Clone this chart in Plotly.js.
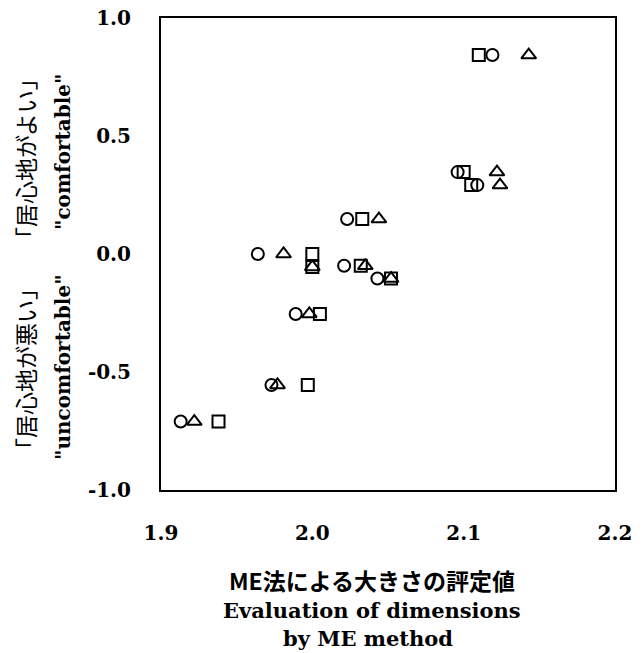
<!DOCTYPE html>
<html>
<head>
<meta charset="utf-8">
<script src="https://cdn.plot.ly/plotly-3.0.1.min.js"></script>
<style>html,body{margin:0;padding:0;background:#fff;}#chart{width:644px;height:653px;}</style>
</head>
<body>
<div id="chart"></div>
<script>
// Circle series
const circleX = [2.119, 2.096, 2.109, 2.023, 1.964, 2.021, 2.043, 1.989, 1.973, 1.913];
const circleY = [0.843, 0.347, 0.292, 0.148, 0.000, -0.050, -0.104, -0.254, -0.555, -0.710];
// Square series
const squareX = [2.110, 2.100, 2.105, 2.033, 2.000, 2.000, 2.032, 2.052, 2.005, 1.997, 1.938];
const squareY = [0.843, 0.347, 0.292, 0.148, 0.000, -0.055, -0.050, -0.104, -0.254, -0.555, -0.710];
// Triangle series
const triX = [2.143, 2.122, 2.124, 2.044, 1.981, 2.000, 2.035, 2.052, 1.998, 1.977, 1.922];
const triY = [0.843, 0.347, 0.292, 0.148, 0.000, -0.055, -0.050, -0.104, -0.254, -0.555, -0.710];

const xTicks = [1.9, 2.0, 2.1, 2.2];
const xTickText = ["1.9", "2.0", "2.1", "2.2"];
const yTicks = [-1.0, -0.5, 0.0, 0.5, 1.0];
const yTickText = ["-1.0", "-0.5", "0.0", "0.5", "1.0"];

const xTitleLines = ["ME法による大きさの評定値", "Evaluation of dimensions", "by ME method"];
const yTitleJa = ["「居心地が悪い」", "「居心地がよい」"];
const yTitleEn = ['"uncomfortable"', '"comfortable"'];

const serif = "DejaVu Serif";
const cjk = "Noto Sans CJK JP";

function mk(x, y, sym, size) {
  return {
    x: x, y: y, type: "scatter", mode: "markers", showlegend: false, hoverinfo: "skip",
    marker: {symbol: sym, size: size, color: "#000", line: {color: "#000", width: 2}}
  };
}

const data = [
  mk(circleX, circleY, "circle-open", 12),
  mk(squareX, squareY, "square-open", 12),
  mk(triX, triY, "triangle-up-open", 13)
];

const W = 644, H = 653, L = 161, R = 29, T = 18, B = 163;
const pw = W - L - R, ph = H - T - B;
function px(xp) { return (xp - L) / pw; }
function py(yp) { return (H - B - yp) / ph; }

const annotations = [
  {text: xTitleLines[0], x: px(372), y: py(580), font: {family: cjk, size: 23, color: "#000", weight: "bold"}},
  {text: xTitleLines[1], x: px(372), y: py(610), font: {family: serif, size: 21, color: "#000", weight: "bold"}},
  {text: xTitleLines[2], x: px(368), y: py(638), font: {family: serif, size: 21, color: "#000", weight: "bold"}},
  {text: yTitleJa[0], x: px(25), y: py(369), textangle: -90, font: {family: cjk, size: 23, color: "#000"}},
  {text: yTitleJa[1], x: px(25), y: py(159), textangle: -90, font: {family: cjk, size: 23, color: "#000"}},
  {text: yTitleEn[0], x: px(63), y: py(367), textangle: -90, font: {family: serif, size: 20, color: "#000", weight: "bold"}},
  {text: yTitleEn[1], x: px(63), y: py(152), textangle: -90, font: {family: serif, size: 20, color: "#000", weight: "bold"}}
].map(a => Object.assign({xref: "paper", yref: "paper", showarrow: false, xanchor: "center", yanchor: "middle"}, a));

const layout = {
  width: W, height: H,
  margin: {l: L, r: R, t: T, b: B, pad: 0},
  paper_bgcolor: "#fff", plot_bgcolor: "#fff",
  showlegend: false,
  xaxis: {
    range: [1.9, 2.2], tickvals: xTicks, ticktext: xTickText,
    showgrid: false, zeroline: false, showline: true, mirror: true,
    linecolor: "#000", linewidth: 2, ticks: "", ticklabelstandoff: 24,
    tickfont: {family: serif, size: 20, color: "#000", weight: "bold"}
  },
  yaxis: {
    range: [-1.0, 1.0], tickvals: yTicks, ticktext: yTickText,
    showgrid: false, zeroline: false, showline: true, mirror: true,
    linecolor: "#000", linewidth: 2, ticks: "", ticklabelstandoff: 24,
    tickfont: {family: serif, size: 20, color: "#000", weight: "bold"}
  },
  annotations: annotations
};

Plotly.newPlot("chart", data, layout, {displayModeBar: false, staticPlot: true});
</script>
</body>
</html>
